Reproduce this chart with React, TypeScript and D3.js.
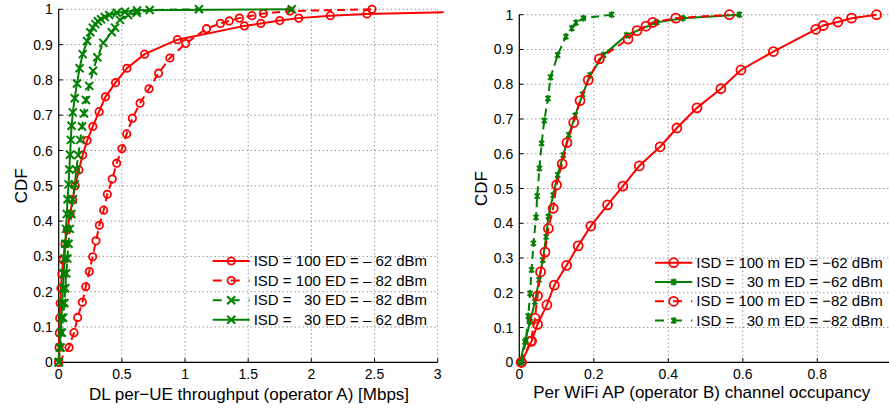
import * as d3 from "d3";

type Pt = [number, number];

// ---- Left panel: DL per-UE throughput (operator A) [Mbps] vs CDF ----
const tputIsd100Ed62: Pt[] = [
  [0, 0], [0.003, 0.042], [0.005, 0.083], [0.008, 0.125], [0.012, 0.167], [0.018, 0.21],
  [0.025, 0.25], [0.035, 0.29], [0.05, 0.335], [0.068, 0.375], [0.09, 0.42], [0.11, 0.46],
  [0.13, 0.5], [0.16, 0.545], [0.19, 0.587], [0.225, 0.628], [0.27, 0.668], [0.32, 0.71],
  [0.37, 0.752], [0.45, 0.792], [0.54, 0.833], [0.68, 0.873], [0.94, 0.914], [1.47, 0.953],
  [1.6, 0.96], [1.75, 0.968], [1.9, 0.975], [2.15, 0.982], [2.44, 0.987], [3.6, 0.996],
];
const tputIsd100Ed82: Pt[] = [
  [0, 0], [0.082, 0.042], [0.121, 0.084], [0.15, 0.127], [0.187, 0.17], [0.214, 0.214],
  [0.242, 0.257], [0.269, 0.299], [0.295, 0.344], [0.322, 0.388], [0.356, 0.431], [0.385, 0.476],
  [0.424, 0.519], [0.459, 0.564], [0.5, 0.605], [0.538, 0.647], [0.583, 0.691], [0.644, 0.734],
  [0.715, 0.775], [0.79, 0.819], [0.88, 0.862], [1.005, 0.903], [1.17, 0.945], [1.28, 0.96],
  [1.35, 0.967], [1.43, 0.975], [1.53, 0.982], [1.62, 0.988], [1.83, 0.995], [2.48, 1.0],
];
const tputIsd30Ed82: Pt[] = [
  [0, 0], [0.015, 0.042], [0.025, 0.084], [0.035, 0.126], [0.045, 0.168], [0.052, 0.21],
  [0.06, 0.252], [0.068, 0.294], [0.078, 0.336], [0.088, 0.378], [0.1, 0.42], [0.112, 0.462],
  [0.128, 0.504], [0.14, 0.546], [0.155, 0.587], [0.17, 0.63], [0.185, 0.668], [0.2, 0.705],
  [0.216, 0.743], [0.242, 0.783], [0.272, 0.826], [0.306, 0.864], [0.353, 0.905], [0.42, 0.935],
  [0.446, 0.948], [0.485, 0.97], [0.55, 0.984], [0.617, 0.99], [0.72, 0.998], [1.11, 1.0],
];
const tputIsd30Ed62: Pt[] = [
  [0, 0], [0.008, 0.042], [0.016, 0.084], [0.022, 0.126], [0.028, 0.168], [0.034, 0.21],
  [0.04, 0.252], [0.046, 0.294], [0.052, 0.336], [0.058, 0.378], [0.064, 0.42], [0.07, 0.462],
  [0.078, 0.504], [0.084, 0.546], [0.09, 0.588], [0.096, 0.63], [0.102, 0.67], [0.112, 0.708],
  [0.127, 0.748], [0.145, 0.79], [0.165, 0.833], [0.19, 0.873], [0.225, 0.91], [0.25, 0.935],
  [0.27, 0.948], [0.29, 0.958], [0.31, 0.966], [0.335, 0.972], [0.365, 0.978], [0.4, 0.984],
  [0.46, 0.99], [0.525, 0.993], [0.62, 0.997], [1.845, 1.0],
];

// ---- Right panel: per WiFi AP (operator B) channel occupancy vs CDF ----
const occIsd100Ed62: Pt[] = [
  [0.006, 0], [0.033, 0.061], [0.049, 0.109], [0.074, 0.165], [0.094, 0.222], [0.127, 0.279],
  [0.158, 0.335], [0.192, 0.392], [0.237, 0.453], [0.278, 0.507], [0.322, 0.565], [0.378, 0.62],
  [0.423, 0.674], [0.477, 0.732], [0.541, 0.787], [0.595, 0.841], [0.682, 0.894], [0.796, 0.958],
  [0.816, 0.969], [0.855, 0.979], [0.892, 0.99], [0.959, 1.0],
];
const occIsd30Ed62: Pt[] = [
  [0.002, 0], [0.015, 0.059], [0.029, 0.117], [0.042, 0.174], [0.053, 0.237], [0.063, 0.294],
  [0.072, 0.361], [0.078, 0.419], [0.091, 0.481], [0.103, 0.539], [0.118, 0.596], [0.133, 0.654],
  [0.15, 0.71], [0.17, 0.771], [0.19, 0.826], [0.226, 0.884], [0.288, 0.941], [0.369, 0.978],
  [0.439, 0.99], [0.591, 1.0],
];
const occIsd100Ed82: Pt[] = [
  [0.005, 0], [0.031, 0.061], [0.042, 0.127], [0.049, 0.191], [0.057, 0.26], [0.069, 0.317],
  [0.078, 0.385], [0.091, 0.443], [0.1, 0.51], [0.115, 0.571], [0.128, 0.632], [0.146, 0.69],
  [0.163, 0.753], [0.185, 0.812], [0.215, 0.873], [0.292, 0.93], [0.316, 0.954], [0.34, 0.967],
  [0.358, 0.978], [0.42, 0.99], [0.564, 1.0],
];
const occIsd30Ed82: Pt[] = [
  [0.006, 0], [0.018, 0.064], [0.024, 0.133], [0.029, 0.198], [0.033, 0.266], [0.038, 0.342],
  [0.045, 0.417], [0.048, 0.478], [0.054, 0.558], [0.06, 0.63], [0.067, 0.695], [0.077, 0.759],
  [0.084, 0.82], [0.103, 0.884], [0.125, 0.937], [0.141, 0.961], [0.152, 0.977], [0.172, 0.99],
  [0.248, 1.0],
];

const leftLabels = [
  "ISD = 100 ED = \u2013 62 dBm",
  "ISD = 100 ED = \u2013 82 dBm",
  "ISD =   30 ED = \u2013 82 dBm",
  "ISD =   30 ED = \u2013 62 dBm",
];
const rightLabels = [
  "ISD = 100 m ED = \u221262 dBm",
  "ISD =   30 m ED = \u221262 dBm",
  "ISD = 100 m ED = \u221282 dBm",
  "ISD =   30 m ED = \u221282 dBm",
];

const cdfTicks = [0, 0.1, 0.2, 0.3, 0.4, 0.5, 0.6, 0.7, 0.8, 0.9, 1];
const tputTicks = [0, 0.5, 1, 1.5, 2, 2.5, 3];
// the axis runs to 1, but that tick sits just past the right edge of the figure
const occTicks = [0, 0.2, 0.4, 0.6, 0.8];

const RED = "#ff0000";
const GREEN = "#008000";
const FONT = "'Liberation Sans', Arial, Helvetica, sans-serif";

type Marker = "o" | "x" | "*";
type Series = { data: Pt[]; label: string; color: string; dashed: boolean; marker: Marker };

function MarkerShape({ kind, x, y, color, size }: { kind: Marker; x: number; y: number; color: string; size: number }) {
  if (kind === "o") {
    return <circle cx={x} cy={y} r={size} fill="none" stroke={color} strokeWidth={1.8} />;
  }
  if (kind === "x") {
    const s = size;
    return (
      <path
        d={`M${x - s},${y - s}L${x + s},${y + s}M${x - s},${y + s}L${x + s},${y - s}`}
        stroke={color}
        strokeWidth={2}
        fill="none"
      />
    );
  }
  const s = size;
  const d = s * 0.72;
  return (
    <path
      d={`M${x - d},${y - d}L${x + d},${y + d}M${x - d},${y + d}L${x + d},${y - d}M${x},${y - s}L${x},${y + s}`}
      stroke={color}
      strokeWidth={1.8}
      fill="none"
    />
  );
}

function Panel(props: {
  id: string;
  left: number;
  right: number;
  top: number;
  bottom: number;
  xDomain: [number, number];
  xTicks: number[];
  xLabel: string;
  xLabelX: number;
  xLabelY: number;
  yLabelX: number;
  series: Series[];
  markerSize: { o: number; x: number; "*": number };
  legend: { x: number; y: number; lineLen: number; rowH: number };
}) {
  const { id, left, right, top, bottom, xDomain, xTicks, series, markerSize, legend } = props;
  const x = d3.scaleLinear().domain(xDomain).range([left, right]);
  const y = d3.scaleLinear().domain([0, 1]).range([bottom, top]);
  const line = d3
    .line<Pt>()
    .x((d) => x(d[0]))
    .y((d) => y(d[1]));
  const fmt = (v: number) => (v === 0 || v === 1 ? String(v) : String(+v.toFixed(2)));

  return (
    <g fontFamily={FONT}>
      <defs>
        <clipPath id={id}>
          <rect x={left - 6} y={top - 6} width={right - left + 12} height={bottom - top + 12} />
        </clipPath>
      </defs>
      {/* grid */}
      {xTicks.map((t) => (
        <line key={"gx" + t} x1={x(t)} x2={x(t)} y1={top} y2={bottom} stroke="#666" strokeWidth={1} strokeDasharray="1,3" />
      ))}
      {cdfTicks.map((t) => (
        <line key={"gy" + t} x1={left} x2={right} y1={y(t)} y2={y(t)} stroke="#666" strokeWidth={1} strokeDasharray="1,3" />
      ))}
      {/* axes */}
      <line x1={left} x2={right} y1={bottom} y2={bottom} stroke="#000" strokeWidth={1.2} />
      <line x1={left} x2={left} y1={top} y2={bottom} stroke="#000" strokeWidth={1.2} />
      {xTicks.map((t) => (
        <g key={"tx" + t}>
          <line x1={x(t)} x2={x(t)} y1={bottom} y2={bottom - 4} stroke="#000" />
          <text x={x(t)} y={bottom + 17} fontSize={14} textAnchor="middle">
            {fmt(t)}
          </text>
        </g>
      ))}
      {cdfTicks.map((t) => (
        <g key={"ty" + t}>
          <line x1={left} x2={left + 4} y1={y(t)} y2={y(t)} stroke="#000" />
          <text x={left - 6} y={y(t) + 5} fontSize={14} textAnchor="end">
            {fmt(t)}
          </text>
        </g>
      ))}
      <text x={props.xLabelX} y={props.xLabelY} fontSize={17} textAnchor="middle">
        {props.xLabel}
      </text>
      <text
        transform={`translate(${props.yLabelX},${(top + bottom) / 2}) rotate(-90)`}
        fontSize={17}
        textAnchor="middle"
      >
        CDF
      </text>
      {/* series */}
      <g clipPath={`url(#${id})`}>
        {series.map((s, i) => (
          <g key={"s" + i}>
            <path
              d={line(s.data) ?? ""}
              fill="none"
              stroke={s.color}
              strokeWidth={2}
              strokeDasharray={s.dashed ? "8,5" : undefined}
            />
            {s.data.map((p, j) => (
              <MarkerShape key={j} kind={s.marker} x={x(p[0])} y={y(p[1])} color={s.color} size={markerSize[s.marker]} />
            ))}
          </g>
        ))}
      </g>
      {/* legend */}
      {series.map((s, i) => {
        const ly = legend.y + i * legend.rowH;
        const lx = legend.x;
        return (
          <g key={"lg" + i}>
            <line
              x1={lx}
              x2={lx + legend.lineLen}
              y1={ly}
              y2={ly}
              stroke={s.color}
              strokeWidth={2}
              strokeDasharray={s.dashed ? "9,9" : undefined}
            />
            <MarkerShape kind={s.marker} x={lx + legend.lineLen / 2} y={ly} color={s.color} size={markerSize[s.marker]} />
            <text x={lx + legend.lineLen + 4} y={ly + 5} fontSize={15} style={{ whiteSpace: "pre" }}>
              {s.label}
            </text>
          </g>
        );
      })}
    </g>
  );
}

export default function App() {
  const leftSeries: Series[] = [
    { data: tputIsd100Ed62, label: leftLabels[0], color: RED, dashed: false, marker: "o" },
    { data: tputIsd100Ed82, label: leftLabels[1], color: RED, dashed: true, marker: "o" },
    { data: tputIsd30Ed82, label: leftLabels[2], color: GREEN, dashed: true, marker: "x" },
    { data: tputIsd30Ed62, label: leftLabels[3], color: GREEN, dashed: false, marker: "x" },
  ];
  const rightSeries: Series[] = [
    { data: occIsd100Ed62, label: rightLabels[0], color: RED, dashed: false, marker: "o" },
    { data: occIsd30Ed62, label: rightLabels[1], color: GREEN, dashed: false, marker: "*" },
    { data: occIsd100Ed82, label: rightLabels[2], color: RED, dashed: true, marker: "o" },
    { data: occIsd30Ed82, label: rightLabels[3], color: GREEN, dashed: true, marker: "*" },
  ];

  return (
    <div>
      <style>{`body{margin:0;background:#fff}`}</style>
      <svg width={889} height={409} style={{ display: "block", background: "#fff" }}>
        <Panel
          id="clipL"
          left={58.7}
          right={437.7}
          top={9.3}
          bottom={362.3}
          xDomain={[0, 3]}
          xTicks={tputTicks}
          xLabel={"DL per\u2212UE throughput (operator A) [Mbps]"}
          xLabelX={249}
          xLabelY={400}
          yLabelX={27}
          series={leftSeries}
          markerSize={{ o: 3.7, x: 4, "*": 3.5 }}
          legend={{ x: 212.7, y: 261, lineLen: 37, rowH: 19.6 }}
        />
        <Panel
          id="clipR"
          left={519.3}
          right={891.8}
          top={14.7}
          bottom={362.3}
          xDomain={[0, 1]}
          xTicks={occTicks}
          xLabel="Per WiFi AP (operator B) channel occupancy"
          xLabelX={701.7}
          xLabelY={398}
          yLabelX={487}
          series={rightSeries}
          markerSize={{ o: 4.5, x: 4, "*": 3.5 }}
          legend={{ x: 655, y: 262.7, lineLen: 37.3, rowH: 19.3 }}
        />
      </svg>
    </div>
  );
}
